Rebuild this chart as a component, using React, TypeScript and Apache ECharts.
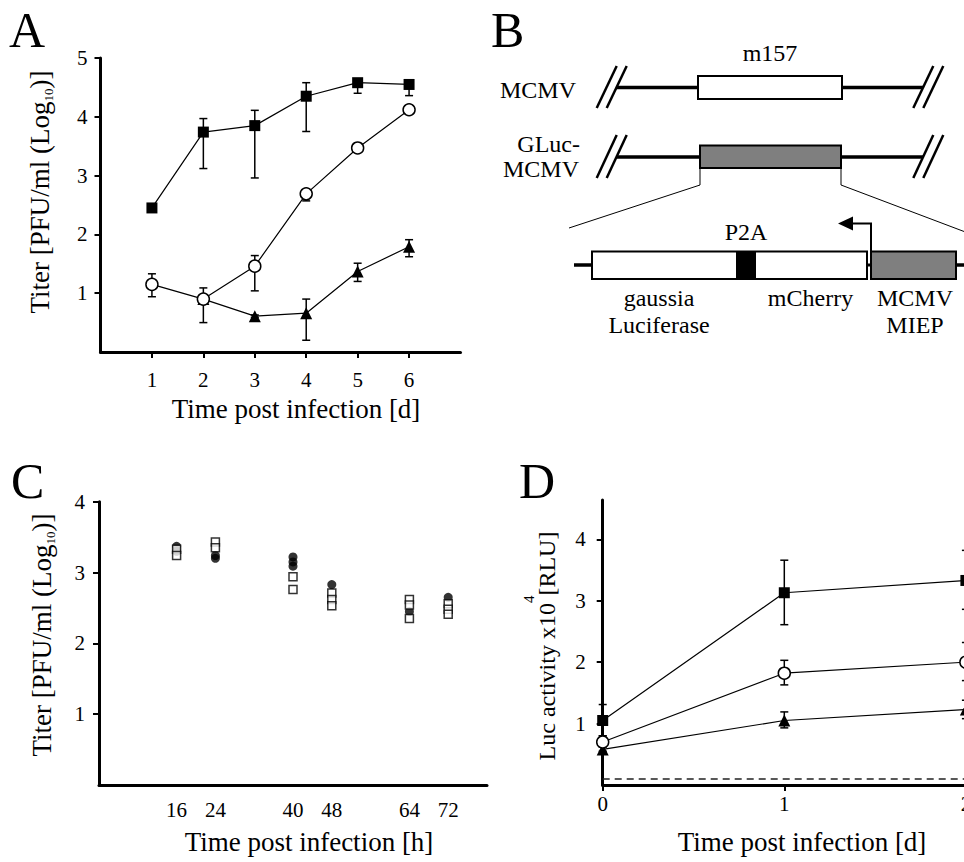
import React, { useEffect, useRef } from 'react';
import * as echarts from 'echarts';

const FONT = '"Liberation Serif", "Times New Roman", serif';

// ---------- Panel A ----------
const A_DAYS = [1, 2, 3, 4, 5, 6];
const A_SQ = [2.45, 3.74, 3.85, 4.35, 4.58, 4.55];
const A_SQ_HI = [2.47, 3.97, 4.11, 4.58, 4.63, 4.63];
const A_SQ_LO = [2.43, 3.12, 2.96, 3.75, 4.4, 4.36];
const A_CI = [1.15, 0.9, 1.46, 2.69, 3.47, 4.12];
const A_CI_HI = [1.33, 1.09, 1.64, 2.72, 3.49, 4.14];
const A_CI_LO = [0.94, 0.5, 1.04, 2.57, 3.45, 4.05];
const A_TRI_DAYS = [2, 3, 4, 5, 6];
const A_TRI = [0.9, 0.61, 0.66, 1.37, 1.79];
const A_TRI_HI = [0.92, 0.63, 0.9, 1.51, 1.91];
const A_TRI_LO = [0.88, 0.59, 0.2, 1.2, 1.62];
const A_X_TICKS = [1, 2, 3, 4, 5, 6];
const A_Y_TICKS = [1, 2, 3, 4, 5];

// ---------- Panel C ----------
const C_HOURS = [16, 24, 40, 48, 64, 72];
const C_FILLED = [[3.37, 3.3], [3.24, 3.2], [3.22, 3.15, 3.09], [2.83], [2.45], [2.65]];
const C_OPEN = [[3.33, 3.24], [3.43, 3.35], [2.94, 2.76], [2.71, 2.62, 2.53], [2.62, 2.54, 2.35], [2.56, 2.48, 2.41]];
const C_Y_TICKS = [1, 2, 3, 4];

// ---------- Panel D ----------
const D_DAYS = [0, 1, 2];
const D_SQ = [1.05, 3.13, 3.33];
const D_SQ_HI = [1.31, 3.66, 3.82];
const D_SQ_LO = [0.8, 2.61, 2.86];
const D_CI = [0.7, 1.82, 2.0];
const D_CI_HI = [0.8, 2.03, 2.32];
const D_CI_LO = [0.62, 1.63, 1.7];
const D_TRI = [0.58, 1.05, 1.23];
const D_TRI_HI = [0.62, 1.19, 1.38];
const D_TRI_LO = [0.55, 0.93, 1.08];
const D_CUTOFF = 0.1;
const D_Y_TICKS = [1, 2, 3, 4];

const pairs = (xs: number[], ys: number[]) => xs.map((x, i) => [x, ys[i]]);
const errs = (xs: number[], lo: number[], hi: number[]) => xs.map((x, i) => [x, lo[i], hi[i]]);
const reps = (xs: number[], vals: number[][]) => {
  const out: number[][] = [];
  xs.forEach((x, i) => vals[i].forEach((v) => out.push([x, v])));
  return out;
};

const errSeries = (idx: number, data: number[][]) => ({
  type: 'custom',
  xAxisIndex: idx,
  yAxisIndex: idx,
  z: 1,
  silent: true,
  clip: false,
  encode: { x: 0, y: [1, 2] },
  data,
  renderItem: (_p: any, api: any) => {
    const x = api.value(0);
    const a = api.coord([x, api.value(1)]);
    const b = api.coord([x, api.value(2)]);
    const w = 4;
    const st = { stroke: '#000', lineWidth: 1.5 };
    return {
      type: 'group',
      children: [
        { type: 'line', shape: { x1: a[0], y1: a[1], x2: b[0], y2: b[1] }, style: st },
        { type: 'line', shape: { x1: a[0] - w, y1: a[1], x2: a[0] + w, y2: a[1] }, style: st },
        { type: 'line', shape: { x1: b[0] - w, y1: b[1], x2: b[0] + w, y2: b[1] }, style: st },
      ],
    };
  },
});

const lineSeries = (idx: number, data: number[][], kind: 'sq' | 'ci' | 'tri', z: number, extra: any = {}) => ({
  type: 'line',
  xAxisIndex: idx,
  yAxisIndex: idx,
  data,
  z,
  silent: true,
  showAllSymbol: true,
  symbol: kind === 'sq' ? 'rect' : kind === 'ci' ? 'circle' : 'triangle',
  symbolSize: kind === 'sq' ? 11 : 12,
  itemStyle:
    kind === 'ci'
      ? { color: '#fff', borderColor: '#000', borderWidth: 1.5 }
      : { color: '#000', borderColor: '#000', borderWidth: 0 },
  lineStyle: { color: '#000', width: 1.2 },
  emphasis: { disabled: true },
  ...extra,
});

const axisCommon = (ticks: number[] | null, margin: number, tickShow = true) => ({
  axisLine: { show: true, onZero: false, lineStyle: { color: '#000', width: 3 } },
  axisTick: {
    show: tickShow,
    inside: false,
    length: 6,
    lineStyle: { color: '#000', width: 2 },
    ...(ticks ? { customValues: ticks } : {}),
  },
  axisLabel: {
    color: '#000',
    fontFamily: FONT,
    fontSize: 21,
    margin,
    ...(ticks ? { customValues: ticks } : {}),
  },
  splitLine: { show: false },
});

const txt = (text: string, x: number, y: number, size: number, align = 'center', extra: any = {}) => ({
  type: 'text',
  x,
  y,
  silent: true,
  style: { text, fontSize: size, fontFamily: FONT, fill: '#000', align, verticalAlign: 'middle' },
  ...extra,
});

const ln = (x1: number, y1: number, x2: number, y2: number, w: number) => ({
  type: 'line',
  silent: true,
  shape: { x1, y1, x2, y2 },
  style: { stroke: '#000', lineWidth: w },
});

const box = (x: number, y: number, width: number, height: number, fill: string, lw = 2) => ({
  type: 'rect',
  silent: true,
  shape: { x, y, width, height },
  style: { fill, stroke: '#000', lineWidth: lw },
});

const slashes = (x0: number, yTop: number, yBot: number) => [
  ln(x0, yBot, x0 + 20, yTop, 2.5),
  ln(x0 + 10, yBot, x0 + 30, yTop, 2.5),
];

export default function App() {
  const ref = useRef<HTMLDivElement>(null);
  useEffect(() => {
    if (!ref.current) return;
    const chart = echarts.init(ref.current, null, { renderer: 'svg' });

    const titleRich = {
      a: { fontSize: 27, fontFamily: FONT, fill: '#000', lineHeight: 30 },
      b: { fontSize: 13, fontFamily: FONT, fill: '#000', lineHeight: 16, verticalAlign: 'bottom' },
    };
    const dRich = {
      a: { fontSize: 24, fontFamily: FONT, fill: '#000', lineHeight: 52 },
      b: { fontSize: 15, fontFamily: FONT, fill: '#000', lineHeight: 14, verticalAlign: 'top' },
    };

    const graphics: any[] = [
      // panel letters
      txt('A', 9, 30, 50, 'left'),
      txt('B', 491, 30, 50, 'left'),
      txt('C', 11, 481, 50, 'left'),
      txt('D', 519, 481, 50, 'left'),
      // axis titles
      txt('Time post infection [d]', 296, 409, 27),
      txt('Time post infection [h]', 309, 842, 27),
      txt('Time post infection [d]', 802, 842, 27),
      {
        type: 'text', x: 40, y: 192, rotation: Math.PI / 2, silent: true,
        style: { text: '{a|Titer [PFU/ml (Log}{b|10}{a|)]}', rich: titleRich, align: 'center', verticalAlign: 'middle', fill: '#000' },
      },
      {
        type: 'text', x: 42, y: 635, rotation: Math.PI / 2, silent: true,
        style: { text: '{a|Titer [PFU/ml (Log}{b|10}{a|)]}', rich: titleRich, align: 'center', verticalAlign: 'middle', fill: '#000' },
      },
      {
        type: 'text', x: 547, y: 646, rotation: Math.PI / 2, silent: true,
        style: { text: '{a|Luc activity x10}{b|4}{a|[RLU]}', rich: dRich, align: 'center', verticalAlign: 'middle', fill: '#000' },
      },
      // ---- Panel B diagram ----
      txt('m157', 770, 53, 24),
      txt('MCMV', 576, 89.5, 24, 'right'),
      txt('GLuc-', 580, 144, 24, 'right'),
      txt('MCMV', 579, 169, 24, 'right'),
      ...slashes(596.7, 66, 108),
      ...slashes(913.3, 66, 108),
      ln(616, 87.5, 698, 87.5, 3.5),
      ln(842, 87.5, 923, 87.5, 3.5),
      box(698, 76, 144, 23, '#fff'),
      ...slashes(596.7, 135, 178),
      ...slashes(913.3, 135, 178),
      ln(616, 157, 700, 157, 3.5),
      ln(841, 157, 923, 157, 3.5),
      box(700, 145.5, 141, 22.5, '#7f7f7f'),
      {
        type: 'polyline', silent: true,
        shape: { points: [[700, 168], [700, 185], [569, 228]] },
        style: { stroke: '#000', lineWidth: 1, fill: 'none' },
      },
      {
        type: 'polyline', silent: true,
        shape: { points: [[841, 168], [841, 185], [968, 233]] },
        style: { stroke: '#000', lineWidth: 1, fill: 'none' },
      },
      ln(574, 265, 592, 265, 3.5),
      ln(866, 265, 872, 265, 3),
      ln(956, 265, 966, 265, 3.5),
      box(592, 251.5, 275, 27.5, '#fff'),
      { type: 'rect', silent: true, shape: { x: 736, y: 251.5, width: 20, height: 27.5 }, style: { fill: '#000' } },
      box(871, 251.5, 85, 27.5, '#7f7f7f'),
      {
        type: 'polyline', silent: true,
        shape: { points: [[871, 251], [871, 223.5], [851, 223.5]] },
        style: { stroke: '#000', lineWidth: 2, fill: 'none' },
      },
      {
        type: 'polygon', silent: true,
        shape: { points: [[838, 223.5], [853, 216.5], [853, 230.5]] },
        style: { fill: '#000' },
      },
      txt('P2A', 746, 232, 24),
      txt('gaussia', 659, 297.5, 24),
      txt('Luciferase', 659, 325, 24),
      txt('mCherry', 810.5, 297.5, 24),
      txt('MCMV', 915, 297.5, 24),
      txt('MIEP', 915, 325, 24),
    ];

    const option: any = {
      animation: false,
      backgroundColor: '#fff',
      grid: [
        { left: 100.5, top: 58, width: 360, height: 294, containLabel: false, outerBoundsMode: 'none' },
        { left: 99, top: 501.7, width: 388, height: 283.3, containLabel: false, outerBoundsMode: 'none' },
        { left: 602.7, top: 500, width: 454, height: 285, containLabel: false, outerBoundsMode: 'none' },
      ],
      xAxis: [
        { type: 'value', gridIndex: 0, min: 0, max: 7, ...axisCommon(A_X_TICKS, 17) },
        { type: 'value', gridIndex: 1, min: 0, max: 80, ...axisCommon(C_HOURS, 14, false) },
        { type: 'value', gridIndex: 2, min: 0, max: 2.5, ...axisCommon(D_DAYS, 8) },
      ],
      yAxis: [
        { type: 'value', gridIndex: 0, min: 0, max: 5, ...axisCommon(A_Y_TICKS, 13) },
        { type: 'value', gridIndex: 1, min: 0, max: 4, ...axisCommon(C_Y_TICKS, 14) },
        { type: 'value', gridIndex: 2, min: 0, max: 4.64, ...axisCommon(D_Y_TICKS, 17) },
      ],
      series: [
        // Panel A
        errSeries(0, errs(A_DAYS, A_SQ_LO, A_SQ_HI)),
        errSeries(0, errs(A_DAYS, A_CI_LO, A_CI_HI)),
        errSeries(0, errs(A_TRI_DAYS, A_TRI_LO, A_TRI_HI)),
        lineSeries(0, pairs(A_TRI_DAYS, A_TRI), 'tri', 3),
        lineSeries(0, pairs(A_DAYS, A_SQ), 'sq', 4),
        lineSeries(0, pairs(A_DAYS, A_CI), 'ci', 5),
        // Panel C
        {
          type: 'scatter', xAxisIndex: 1, yAxisIndex: 1, z: 3, silent: true,
          symbol: 'circle', symbolSize: 9, itemStyle: { color: '#000' },
          data: reps(C_HOURS, C_FILLED),
        },
        {
          type: 'scatter', xAxisIndex: 1, yAxisIndex: 1, z: 4, silent: true,
          symbol: 'rect', symbolSize: 8, itemStyle: { color: '#fff', borderColor: '#000', borderWidth: 1.5 },
          data: reps(C_HOURS, C_OPEN),
        },
        // Panel D
        errSeries(2, errs(D_DAYS, D_SQ_LO, D_SQ_HI)),
        errSeries(2, errs(D_DAYS, D_CI_LO, D_CI_HI)),
        errSeries(2, errs(D_DAYS, D_TRI_LO, D_TRI_HI)),
        lineSeries(2, pairs(D_DAYS, D_TRI), 'tri', 3, {
          markLine: {
            silent: true,
            symbol: ['none', 'none'],
            label: { show: false },
            lineStyle: { type: [7, 5], color: '#222', width: 1.5 },
            data: [{ yAxis: D_CUTOFF }],
          },
        }),
        lineSeries(2, pairs(D_DAYS, D_SQ), 'sq', 4),
        lineSeries(2, pairs(D_DAYS, D_CI), 'ci', 5),
      ],
      graphic: { elements: graphics },
    };

    chart.setOption(option);
    return () => chart.dispose();
  }, []);

  return (
    <div
      ref={ref}
      style={{ position: 'absolute', left: 0, top: 0, width: 964, height: 862, background: '#fff' }}
    />
  );
}
